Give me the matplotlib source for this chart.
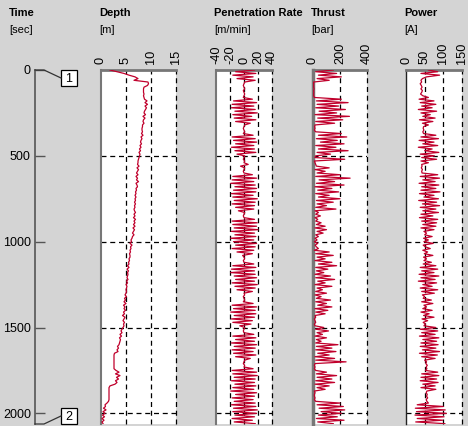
import numpy as np
import matplotlib
matplotlib.use('Agg')
import matplotlib.pyplot as plt
from matplotlib.patches import Rectangle

plt.rcParams['font.family'] = ['Liberation Sans', 'DejaVu Sans']

# sample times [sec], one reading every 10 s
time = np.arange(0, 2070, 10)

depth = [1.8, 3.2, 4.6, 5.6, 6.8, 7.4, 6.6, 9.4, 9.5, 9.3,
         8.6, 8.5, 8.5, 8.5, 8.6, 8.5, 8.6, 8.7, 9.2, 8.8,
         9.3, 8.8, 9.1, 8.9, 8.7, 8.6, 8.9, 8.4, 8.8, 8.5,
         8.4, 8.6, 8.3, 8.3, 8.2, 8.2, 8.3, 8.1, 8.4, 8.0,
         8.2, 8.0, 7.9, 8.1, 7.8, 8.0, 7.7, 7.9, 7.6, 7.8,
         7.7, 7.6, 7.5, 7.4, 7.4, 7.3, 7.6, 7.2, 7.5, 7.3,
         7.1, 7.4, 7.0, 7.3, 7.1, 7.5, 7.0, 7.2, 7.3, 7.0,
         7.1, 6.9, 7.0, 6.8, 7.0, 6.8, 6.9, 6.7, 6.9, 6.7,
         6.8, 6.6, 6.7, 6.9, 6.6, 6.8, 6.5, 6.9, 6.6, 6.8,
         6.5, 6.8, 6.4, 6.7, 6.5, 6.3, 6.6, 6.3, 6.2, 6.0,
         6.1, 5.8, 6.2, 5.9, 6.0, 5.8, 5.9, 5.7, 5.8, 5.8,
         5.6, 5.7, 5.5, 5.6, 5.3, 5.6, 5.2, 5.5, 5.3, 5.4,
         5.3, 5.2, 5.4, 5.1, 5.3, 5.0, 5.2, 5.1, 5.0, 5.1,
         5.0, 4.8, 5.1, 4.7, 4.9, 4.6, 5.0, 4.5, 4.8, 4.6,
         4.9, 4.5, 4.7, 4.3, 4.8, 4.6, 4.4, 4.7, 4.5, 4.6,
         4.4, 4.2, 4.0, 4.2, 3.8, 4.1, 3.7, 3.9, 3.8, 3.7,
         3.6, 3.3, 3.5, 3.2, 3.4, 2.7, 2.6, 2.6, 2.6, 2.6,
         2.6, 2.6, 2.6, 2.6, 2.6, 3.0, 3.6, 2.9, 3.8, 3.1,
         3.5, 2.9, 3.2, 2.8, 1.8, 1.6, 1.6, 1.6, 1.6, 1.6,
         1.6, 1.6, 1.6, 1.5, 1.2, 0.8, 0.9, 0.5, 1.0, 0.4,
         0.8, 0.3, 0.7, 0.2, 0.6, 0.2, 0.4]

pen_rate = [15, -12, 17, -16, 13, -10, 16, 1, 0, -1,
            0, 1, -1, 0, 1, 0, -1, 12, -15, 18,
            -17, 14, -18, 16, -13, 19, -16, 11, -14, 17,
            -12, 9, 1, 0, -1, 0, 1, -1, 13, -17,
            16, -15, 18, -12, 14, -18, 15, -13, 17, -10,
            1, 0, -1, 1, 0, 6, -5, 1, 0, -1,
            0, 12, -16, 18, -17, 14, -19, 16, -13, 18,
            -15, 17, -18, 13, -16, 19, -14, 16, -17, 15,
            -12, 14, -8, 1, 0, -1, 0, 15, -17, 19,
            -16, 18, -14, 20, -18, 15, -13, 17, -19, 14,
            -15, 18, -12, 16, -17, 14, -10, 12, -2, 0,
            1, -1, 0, 14, -16, 17, -18, 15, -19, 16,
            -14, 18, -12, 15, -17, 19, -13, 16, -10, 12,
            0, 1, -1, 0, 1, -1, 13, -17, 18, -15,
            16, -19, 17, -14, 15, -18, 12, -16, 10, -6,
            1, 0, -1, 0, 14, -16, 17, -12, 15, -18,
            18, -14, 16, -17, 13, -15, 17, -12, 9, 1,
            0, -1, 1, 0, 13, -17, 18, -16, 19, -14,
            16, -18, 15, -13, 17, -16, 14, -19, 18, -12,
            15, -17, 13, -14, 16, -18, 17, -15, 19, -16,
            18, -13, 15, -17, 12, -14, 16]

thrust = [150, 20, 175, 40, 210, 30, 120, 5, 5, 5,
          5, 8, 5, 6, 5, 5, 10, 210, 25, 260,
          30, 190, 20, 240, 45, 175, 15, 270, 35, 220,
          20, 160, 15, 12, 15, 10, 20, 210, 40, 250,
          25, 180, 55, 230, 20, 170, 40, 260, 30, 130,
          20, 15, 235, 10, 15, 20, 25, 120, 15, 90,
          30, 200, 20, 275, 45, 160, 25, 230, 15, 140,
          35, 190, 20, 120, 40, 200, 25, 150, 30, 100,
          20, 170, 15, 40, 20, 55, 15, 35, 20, 60,
          25, 90, 15, 100, 30, 75, 20, 40, 15, 30,
          10, 35, 15, 25, 40, 10, 120, 20, 150, 30,
          90, 15, 140, 40, 175, 20, 110, 25, 80, 15,
          130, 20, 160, 35, 90, 15, 140, 30, 70, 20,
          100, 15, 60, 25, 130, 20, 100, 35, 140, 15,
          110, 20, 90, 15, 20, 10, 15, 20, 10, 15,
          80, 20, 115, 30, 70, 15, 100, 25, 60, 20,
          185, 25, 140, 20, 170, 35, 120, 15, 160, 20,
          245, 15, 10, 15, 10, 20, 100, 25, 175, 30,
          140, 20, 160, 15, 120, 30, 90, 10, 15, 10,
          10, 15, 10, 20, 200, 30, 225, 45, 235, 60,
          210, 40, 180, 25, 230, 35, 150]

power = [60, 85, 40, 90, 55, 44, 40, 42, 38, 41,
         43, 40, 44, 42, 39, 45, 60, 35, 75, 38,
         80, 42, 70, 33, 82, 40, 65, 45, 78, 36,
         72, 44, 60, 47, 46, 48, 45, 47, 80, 40,
         87, 35, 75, 45, 85, 33, 70, 50, 88, 38,
         76, 42, 82, 40, 60, 42, 43, 41, 44, 42,
         43, 85, 38, 90, 45, 78, 35, 88, 42, 80,
         40, 91, 36, 75, 48, 87, 34, 82, 44, 90,
         38, 80, 45, 87, 40, 72, 36, 85, 42, 82,
         45, 80, 40, 75, 48, 55, 50, 70, 47, 60,
         48, 73, 46, 52, 65, 45, 58, 49, 72, 47,
         55, 48, 68, 46, 80, 38, 85, 42, 75, 35,
         88, 40, 78, 33, 82, 45, 70, 38, 85, 42,
         76, 44, 50, 46, 68, 42, 72, 48, 55, 45,
         70, 40, 62, 47, 75, 43, 58, 46, 52, 48,
         80, 38, 85, 42, 78, 36, 88, 45, 82, 40,
         86, 38, 80, 44, 90, 36, 84, 42, 78, 50,
         55, 53, 57, 54, 56, 52, 85, 42, 88, 40,
         82, 38, 86, 45, 78, 40, 80, 56, 54, 57,
         55, 58, 54, 56, 60, 30, 100, 25, 105, 28,
         108, 24, 102, 30, 98, 26, 104]

titles = ['Depth', 'Penetration Rate', 'Thrust', 'Power']
units = ['[m]', '[m/min]', '[bar]', '[A]']
xticks = [[0, 5, 10, 15], [-40, -20, 0, 20, 40], [0, 200, 400], [0, 50, 100, 150]]
series = [depth, pen_rate, thrust, power]
time_ticks = [0, 500, 1000, 1500, 2000]

W, H = 468, 426
BG = '#d4d4d4'
RED = '#c0002c'
T_MAX = 2062

fig = plt.figure(figsize=(W / 100, H / 100), dpi=100, facecolor=BG)


def px_axes(x0, x1, y0=70, y1=424):
    return fig.add_axes([x0 / W, 1 - y1 / H, (x1 - x0) / W, (y1 - y0) / H])


# panels: left/right pixel edges
edges = [(101, 176), (216, 272), (313, 367), (406, 462)]
left_spine = [('#777777', 1.5), ('#777777', 1.5), ('#777777', 2.5), ('#222222', 1.0)]
dash = (0, (4, 3))

for i in range(4):
    x0, x1 = edges[i]
    ax = px_axes(x0, x1)
    ax.set_facecolor('white')
    ticks = xticks[i]
    ax.plot(series[i], time, color=RED, lw=0.9, zorder=3)
    ax.set_xlim(ticks[0], ticks[-1])
    ax.set_ylim(T_MAX, 0)
    ax.xaxis.tick_top()
    ax.set_xticks(ticks)
    ax.set_xticklabels([str(t) for t in ticks], rotation=90, fontsize=9.2)
    ax.tick_params(axis='x', length=0, pad=4)
    ax.set_yticks([])
    for t in ticks[1:]:
        ax.axvline(t, color='black', ls=dash, lw=0.9, zorder=2, clip_on=False)
    for t in time_ticks[1:]:
        ax.axhline(t, color='black', ls=dash, lw=0.9, zorder=2)
    ax.spines['bottom'].set_visible(False)
    ax.spines['right'].set_visible(False)
    ax.spines['top'].set_color('#777777')
    ax.spines['top'].set_linewidth(2)
    ax.spines['left'].set_color(left_spine[i][0])
    ax.spines['left'].set_linewidth(left_spine[i][1])
    fig.text((x0 - 2) / W, 1 - 8 / H, titles[i], fontsize=8, fontweight='bold', va='top')
    fig.text((x0 - 2) / W, 1 - 25 / H, units[i], fontsize=8, va='top')

# time axis
tax = px_axes(35, 45)
tax.set_facecolor('none')
tax.set_ylim(T_MAX, 0)
tax.set_yticks(time_ticks)
tax.set_yticklabels([str(t) for t in time_ticks], fontsize=9)
tax.tick_params(axis='y', direction='in', length=7, width=1, color='#555555', pad=3)
tax.set_xticks([])
for s in ['top', 'right', 'bottom']:
    tax.spines[s].set_visible(False)
tax.spines['left'].set_color('#555555')
tax.spines['left'].set_linewidth(1.2)
fig.text(9 / W, 1 - 8 / H, 'Time', fontsize=8, fontweight='bold', va='top')
fig.text(9 / W, 1 - 25 / H, '[sec]', fontsize=8, va='top')

# start / end markers
oax = fig.add_axes([0, 0, 1, 1])
oax.set_xlim(0, W)
oax.set_ylim(H, 0)
oax.axis('off')
oax.plot([35, 44, 61], [70, 70, 78], color='#333333', lw=0.9)
oax.plot([35, 44, 61], [424, 424, 416], color='#333333', lw=0.9)
for yb, lab in [(70, '1'), (408, '2')]:
    oax.add_patch(Rectangle((61, yb), 16, 16, fc='white', ec='black', lw=0.9))
    oax.text(69, yb + 8.5, lab, ha='center', va='center', fontsize=9)

fig.savefig('out.png', dpi=100, facecolor=BG)
